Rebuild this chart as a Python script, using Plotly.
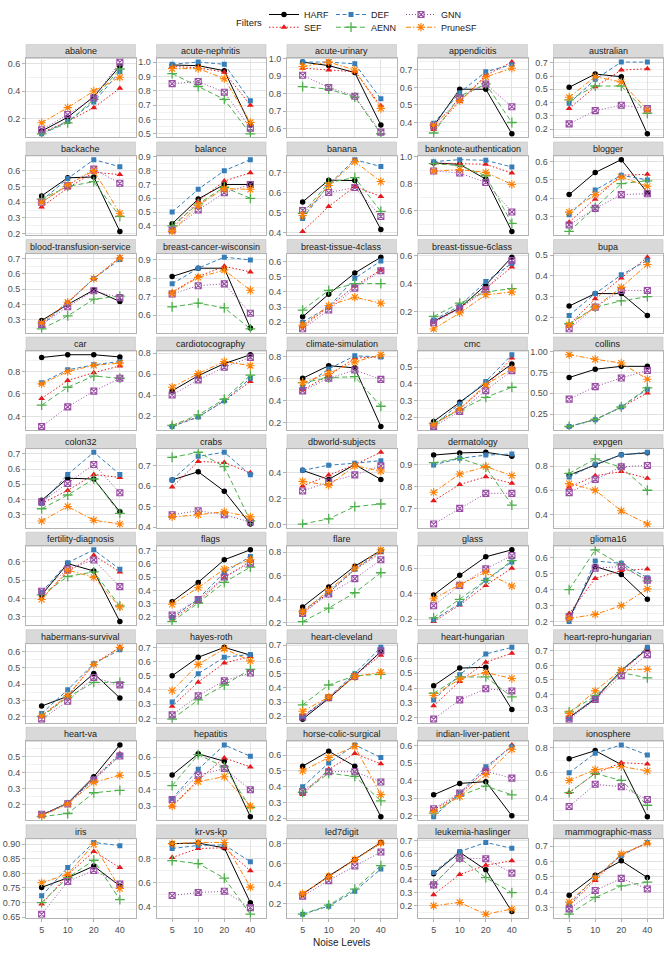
import plotly.graph_objects as go

NOISE = ["5", "10", "20", "40"]

DATASETS = [
    "abalone", "acute-nephritis", "acute-urinary", "appendicitis", "australian",
    "backache", "balance", "banana", "banknote-authentication", "blogger",
    "blood-transfusion-service", "breast-cancer-wisconsin", "breast-tissue-4class", "breast-tissue-6class", "bupa",
    "car", "cardiotocography", "climate-simulation", "cmc", "collins",
    "colon32", "crabs", "dbworld-subjects", "dermatology", "expgen",
    "fertility-diagnosis", "flags", "flare", "glass", "glioma16",
    "habermans-survival", "hayes-roth", "heart-cleveland", "heart-hungarian", "heart-repro-hungarian",
    "heart-va", "hepatitis", "horse-colic-surgical", "indian-liver-patient", "ionosphere",
    "iris", "kr-vs-kp", "led7digit", "leukemia-haslinger", "mammographic-mass",
]

HARF = [
    [0.11, 0.21, 0.36, 0.58], [0.98, 0.975, 0.94, 0.56], [0.98, 0.96, 0.92, 0.62], [0.38, 0.59, 0.59, 0.335], [0.515, 0.615, 0.595, 0.165],
    [0.44, 0.555, 0.56, 0.215], [0.415, 0.595, 0.70, 0.70], [0.553, 0.662, 0.66, 0.415], [0.955, 0.945, 0.835, 0.445], [0.42, 0.54, 0.61, 0.43],
    [0.295, 0.40, 0.495, 0.42], [0.81, 0.855, 0.855, 0.53], [0.235, 0.385, 0.525, 0.63], [0.13, 0.225, 0.39, 0.59], [0.255, 0.315, 0.315, 0.21],
    [0.925, 0.95, 0.95, 0.93], [0.44, 0.585, 0.70, 0.785], [0.605, 0.72, 0.70, 0.165], [0.175, 0.29, 0.405, 0.52], [0.69, 0.79, 0.825, 0.825],
    [0.395, 0.54, 0.535, 0.32], [0.63, 0.67, 0.575, 0.415], [0.42, 0.35, 0.465, 0.35], [0.945, 0.955, 0.958, 0.94], [0.725, 0.81, 0.895, 0.91],
    [0.42, 0.59, 0.55, 0.275], [0.315, 0.46, 0.63, 0.705], [0.335, 0.505, 0.68, 0.815], [0.39, 0.545, 0.69, 0.745], [0.22, 0.545, 0.495, 0.34],
    [0.265, 0.325, 0.465, 0.315], [0.50, 0.63, 0.70, 0.645], [0.18, 0.325, 0.485, 0.655], [0.415, 0.535, 0.54, 0.255], [0.24, 0.37, 0.565, 0.715],
    [0.135, 0.21, 0.375, 0.575], [0.49, 0.62, 0.575, 0.235], [0.53, 0.625, 0.53, 0.21], [0.32, 0.385, 0.395, 0.20], [0.71, 0.775, 0.665, 0.255],
    [0.752, 0.785, 0.825, 0.757], [0.925, 0.93, 0.89, 0.435], [0.295, 0.475, 0.64, 0.81], [0.445, 0.61, 0.475, 0.155], [0.38, 0.51, 0.605, 0.495],
]

SEF = [
    [0.10, 0.18, 0.28, 0.42], [0.97, 0.96, 0.93, 0.70], [0.945, 0.935, 0.925, 0.73], [0.36, 0.52, 0.67, 0.745], [0.355, 0.52, 0.645, 0.655],
    [0.37, 0.49, 0.59, 0.575], [0.38, 0.58, 0.725, 0.785], [0.405, 0.53, 0.63, 0.58], [0.955, 0.95, 0.945, 0.88], [0.27, 0.395, 0.525, 0.53],
    [0.275, 0.415, 0.57, 0.71], [0.725, 0.81, 0.865, 0.835], [0.17, 0.30, 0.44, 0.545], [0.125, 0.225, 0.365, 0.52], [0.165, 0.29, 0.39, 0.49],
    [0.56, 0.72, 0.79, 0.85], [0.11, 0.19, 0.345, 0.53], [0.50, 0.63, 0.79, 0.80], [0.16, 0.25, 0.385, 0.555], [0.10, 0.185, 0.33, 0.505],
    [0.375, 0.46, 0.565, 0.545], [0.595, 0.72, 0.715, 0.665], [0.30, 0.385, 0.465, 0.56], [0.735, 0.81, 0.845, 0.815], [0.625, 0.72, 0.755, 0.70],
    [0.40, 0.545, 0.635, 0.545], [0.185, 0.315, 0.495, 0.62], [0.285, 0.455, 0.65, 0.795], [0.18, 0.31, 0.465, 0.60], [0.25, 0.47, 0.52, 0.53],
    [0.205, 0.325, 0.525, 0.625], [0.285, 0.455, 0.59, 0.635], [0.195, 0.33, 0.49, 0.63], [0.28, 0.445, 0.575, 0.635], [0.245, 0.375, 0.555, 0.715],
    [0.135, 0.205, 0.365, 0.52], [0.30, 0.46, 0.595, 0.54], [0.35, 0.51, 0.61, 0.545], [0.235, 0.32, 0.465, 0.605], [0.445, 0.595, 0.68, 0.67],
    [0.695, 0.795, 0.875, 0.82], [0.81, 0.885, 0.89, 0.70], [0.295, 0.47, 0.64, 0.80], [0.285, 0.44, 0.51, 0.545], [0.31, 0.475, 0.645, 0.72],
]

DEF = [
    [0.09, 0.18, 0.32, 0.54], [0.985, 1.0, 0.985, 0.73], [0.98, 0.98, 0.97, 0.77], [0.395, 0.57, 0.69, 0.73], [0.395, 0.575, 0.705, 0.705],
    [0.41, 0.55, 0.67, 0.625], [0.50, 0.665, 0.80, 0.88], [0.47, 0.64, 0.765, 0.73], [0.965, 0.98, 0.975, 0.925], [0.31, 0.445, 0.525, 0.50],
    [0.265, 0.41, 0.57, 0.695], [0.77, 0.855, 0.915, 0.90], [0.20, 0.30, 0.49, 0.605], [0.14, 0.24, 0.415, 0.545], [0.21, 0.315, 0.405, 0.475],
    [0.70, 0.815, 0.86, 0.89], [0.10, 0.19, 0.345, 0.56], [0.525, 0.69, 0.81, 0.80], [0.15, 0.28, 0.415, 0.575], [0.10, 0.18, 0.335, 0.55],
    [0.375, 0.565, 0.71, 0.565], [0.63, 0.745, 0.765, 0.655], [0.42, 0.46, 0.475, 0.495], [0.90, 0.93, 0.945, 0.95], [0.71, 0.815, 0.895, 0.915],
    [0.435, 0.595, 0.665, 0.56], [0.195, 0.335, 0.535, 0.655], [0.30, 0.46, 0.655, 0.81], [0.195, 0.32, 0.505, 0.65], [0.20, 0.58, 0.565, 0.475],
    [0.22, 0.365, 0.525, 0.61], [0.315, 0.515, 0.63, 0.65], [0.20, 0.335, 0.50, 0.685], [0.32, 0.49, 0.63, 0.675], [0.235, 0.38, 0.565, 0.725],
    [0.135, 0.21, 0.36, 0.51], [0.345, 0.525, 0.675, 0.605], [0.40, 0.55, 0.665, 0.585], [0.195, 0.33, 0.48, 0.595], [0.60, 0.755, 0.82, 0.74],
    [0.723, 0.82, 0.906, 0.895], [0.885, 0.91, 0.915, 0.775], [0.095, 0.175, 0.325, 0.545], [0.455, 0.615, 0.685, 0.64], [0.32, 0.495, 0.64, 0.725],
]

AENN = [
    [0.09, 0.17, 0.34, 0.56], [0.92, 0.83, 0.74, 0.50], [0.84, 0.825, 0.78, 0.57], [0.34, 0.55, 0.62, 0.40], [0.42, 0.525, 0.525, 0.32],
    [0.42, 0.50, 0.53, 0.31], [0.40, 0.56, 0.68, 0.60], [0.495, 0.65, 0.675, 0.505], [0.95, 0.935, 0.86, 0.505], [0.22, 0.35, 0.48, 0.495],
    [0.24, 0.325, 0.435, 0.455], [0.645, 0.665, 0.64, 0.525], [0.28, 0.41, 0.455, 0.455], [0.165, 0.26, 0.34, 0.365], [0.17, 0.25, 0.28, 0.30],
    [0.50, 0.66, 0.76, 0.74], [0.11, 0.21, 0.36, 0.59], [0.565, 0.61, 0.62, 0.35], [0.165, 0.245, 0.32, 0.38], [0.10, 0.185, 0.335, 0.565],
    [0.34, 0.43, 0.535, 0.31], [0.74, 0.765, 0.695, 0.43], [0.005, 0.045, 0.14, 0.16], [0.91, 0.93, 0.89, 0.715], [0.74, 0.86, 0.79, 0.60],
    [0.42, 0.52, 0.545, 0.36], [0.165, 0.305, 0.46, 0.575], [0.21, 0.325, 0.455, 0.625], [0.21, 0.355, 0.505, 0.66], [0.40, 0.65, 0.555, 0.455],
    [0.20, 0.32, 0.41, 0.41], [0.195, 0.33, 0.435, 0.545], [0.28, 0.42, 0.485, 0.495], [0.365, 0.475, 0.475, 0.34], [0.28, 0.39, 0.55, 0.515],
    [0.125, 0.145, 0.275, 0.29], [0.425, 0.615, 0.54, 0.29], [0.365, 0.485, 0.465, 0.31], [0.215, 0.315, 0.37, 0.32], [0.445, 0.595, 0.54, 0.345],
    [0.70, 0.785, 0.845, 0.71], [0.785, 0.76, 0.64, 0.34], [0.095, 0.185, 0.345, 0.58], [0.365, 0.565, 0.415, 0.30], [0.255, 0.365, 0.44, 0.465],
]

GNN = [
    [0.12, 0.23, 0.35, 0.61], [0.85, 0.865, 0.79, 0.54], [0.905, 0.835, 0.785, 0.58], [0.38, 0.54, 0.62, 0.49], [0.24, 0.34, 0.38, 0.355],
    [0.40, 0.505, 0.61, 0.52], [0.37, 0.515, 0.64, 0.70], [0.51, 0.60, 0.625, 0.48], [0.895, 0.88, 0.81, 0.59], [0.255, 0.345, 0.42, 0.425],
    [0.27, 0.385, 0.49, 0.445], [0.715, 0.76, 0.77, 0.61], [0.155, 0.28, 0.425, 0.54], [0.12, 0.22, 0.355, 0.565], [0.145, 0.25, 0.33, 0.33],
    [0.31, 0.485, 0.625, 0.74], [0.40, 0.545, 0.665, 0.76], [0.49, 0.605, 0.68, 0.595], [0.145, 0.235, 0.36, 0.48], [0.43, 0.58, 0.685, 0.775],
    [0.385, 0.505, 0.63, 0.445], [0.46, 0.48, 0.46, 0.425], [0.26, 0.33, 0.385, 0.455], [0.628, 0.70, 0.769, 0.769], [0.58, 0.69, 0.795, 0.805],
    [0.44, 0.56, 0.61, 0.465], [0.215, 0.33, 0.50, 0.605], [0.28, 0.445, 0.575, 0.735], [0.305, 0.465, 0.595, 0.70], [0.23, 0.535, 0.545, 0.46],
    [0.185, 0.295, 0.44, 0.395], [0.225, 0.36, 0.465, 0.52], [0.195, 0.33, 0.48, 0.66], [0.19, 0.32, 0.395, 0.38], [0.23, 0.365, 0.53, 0.675],
    [0.14, 0.205, 0.355, 0.505], [0.34, 0.49, 0.53, 0.40], [0.37, 0.495, 0.495, 0.43], [0.24, 0.33, 0.455, 0.415], [0.335, 0.51, 0.49, 0.39],
    [0.66, 0.772, 0.81, 0.763], [0.495, 0.52, 0.53, 0.395], [0.275, 0.43, 0.575, 0.715], [0.36, 0.565, 0.56, 0.45], [0.29, 0.41, 0.49, 0.42],
]

PRUNESF = [
    [0.17, 0.28, 0.40, 0.50], [0.955, 0.955, 0.885, 0.58], [0.955, 0.98, 0.935, 0.715], [0.385, 0.525, 0.66, 0.71], [0.44, 0.595, 0.555, 0.345],
    [0.40, 0.51, 0.60, 0.33], [0.36, 0.55, 0.67, 0.665], [0.485, 0.635, 0.755, 0.655], [0.895, 0.905, 0.885, 0.795], [0.325, 0.42, 0.515, 0.465],
    [0.28, 0.415, 0.57, 0.705], [0.72, 0.805, 0.845, 0.735], [0.18, 0.31, 0.365, 0.325], [0.075, 0.19, 0.32, 0.34], [0.165, 0.25, 0.345, 0.455],
    [0.69, 0.80, 0.855, 0.875], [0.475, 0.605, 0.72, 0.68], [0.565, 0.65, 0.755, 0.82], [0.155, 0.25, 0.395, 0.49], [0.965, 0.91, 0.865, 0.67],
    [0.26, 0.355, 0.265, 0.24], [0.45, 0.46, 0.475, 0.45], [0.335, 0.305, 0.455, 0.415], [0.774, 0.858, 0.892, 0.851], [0.655, 0.60, 0.43, 0.32],
    [0.395, 0.555, 0.515, 0.355], [0.295, 0.42, 0.56, 0.63], [0.295, 0.475, 0.665, 0.82], [0.36, 0.47, 0.57, 0.46], [0.22, 0.245, 0.30, 0.405],
    [0.205, 0.33, 0.52, 0.625], [0.395, 0.58, 0.69, 0.605], [0.235, 0.335, 0.48, 0.51], [0.35, 0.46, 0.505, 0.465], [0.27, 0.425, 0.57, 0.575],
    [0.13, 0.205, 0.34, 0.385], [0.30, 0.45, 0.48, 0.30], [0.50, 0.585, 0.655, 0.35], [0.225, 0.31, 0.435, 0.58], [0.54, 0.625, 0.65, 0.615],
    [0.768, 0.797, 0.90, 0.748], [0.925, 0.935, 0.935, 0.565], [0.30, 0.47, 0.64, 0.805], [0.20, 0.225, 0.135, 0.175], [0.335, 0.495, 0.65, 0.72],
]

T1 = ["0.2", "0.3", "0.4", "0.5", "0.6"]
YTICKS = [
    ["0.2", "0.4", "0.6"], ["0.5", "0.6", "0.7", "0.8", "0.9", "1.0"], ["0.6", "0.7", "0.8", "0.9", "1.0"], ["0.4", "0.5", "0.6", "0.7"], ["0.2", "0.3", "0.4", "0.5", "0.6", "0.7"],
    T1, ["0.4", "0.5", "0.6", "0.7", "0.8", "0.9"], ["0.4", "0.5", "0.6", "0.7"], ["0.6", "0.8", "1.0"], T1,
    ["0.3", "0.4", "0.5", "0.6", "0.7"], ["0.6", "0.7", "0.8", "0.9"], T1, ["0.2", "0.4", "0.6"], ["0.2", "0.3", "0.4", "0.5"],
    ["0.4", "0.6", "0.8"], ["0.2", "0.4", "0.6", "0.8"], ["0.2", "0.4", "0.6", "0.8"], T1, ["0.25", "0.50", "0.75", "1.00"],
    ["0.3", "0.4", "0.5", "0.6", "0.7"], ["0.4", "0.5", "0.6", "0.7", "0.8"], ["0.0", "0.2", "0.4"], ["0.7", "0.8", "0.9"], ["0.4", "0.6", "0.8"],
    ["0.3", "0.4", "0.5", "0.6"], ["0.2", "0.3", "0.4", "0.5", "0.6", "0.7"], ["0.2", "0.4", "0.6", "0.8"], ["0.2", "0.4", "0.6"], T1,
    T1, ["0.2", "0.3", "0.4", "0.5", "0.6", "0.7"], ["0.2", "0.3", "0.4", "0.5", "0.6", "0.7"], T1, ["0.3", "0.4", "0.5", "0.6", "0.7"],
    ["0.2", "0.3", "0.4", "0.5"], ["0.3", "0.4", "0.5", "0.6"], T1, T1, ["0.4", "0.6", "0.8"],
    ["0.65", "0.70", "0.75", "0.80", "0.85", "0.90"], ["0.4", "0.6", "0.8"], ["0.2", "0.4", "0.6", "0.8"], ["0.2", "0.3", "0.4", "0.5", "0.6", "0.7"], ["0.3", "0.4", "0.5", "0.6", "0.7"],
]

# ---------------- styling / layout ----------------
W, H = 668, 959
FONT = "Liberation Sans, Arial, Helvetica, sans-serif"
COL_LEFT = [26, 156.5, 287, 418, 553.5]
PANEL_W = 109.5
ROW_TOP0, ROW_PITCH, STRIP_H, PANEL_H = 34.0, 99.2, 14.3, 80.3
BORDER = "#b3b3b3"
GRID = "#e2e2e2"
MINOR = "#f1f1f1"

SERIES = [
    # name, data, color, dash, symbol, size, marker line width, legend, legend width
    ("HARF", HARF, "#000000", "solid", "circle", 5.5, 0, "legend", 22),
    ("SEF", SEF, "#E41A1C", "1.5px,2px", "triangle-up", 6, 0, "legend2", 22),
    ("DEF", DEF, "#377EB8", "4px,2.5px", "square", 5, 0, "legend", 25),
    ("AENN", AENN, "#4DAF4A", "5px,3px", "cross-thin-open", 7, 1.3, "legend2", 25),
    ("GNN", GNN, "#984EA3", "1px,2px", "square-x-open", 6, 1.1, "legend", 36),
    ("PruneSF", PRUNESF, "#FF7F00", "5px,2px,1.5px,2px", "asterisk-open", 7, 1.1, "legend2", 36),
]

fig = go.Figure()
layout = dict(
    width=W, height=H, margin=dict(l=0, r=0, t=0, b=0),
    paper_bgcolor="white", plot_bgcolor="white",
    font=dict(family=FONT, size=9, color="#1a1a1a"),
    shapes=[], annotations=[],
)

for i, name in enumerate(DATASETS):
    r, c = divmod(i, 5)
    k = "" if i == 0 else str(i + 1)
    x0 = COL_LEFT[c]
    x1 = x0 + PANEL_W
    strip_top = ROW_TOP0 + r * ROW_PITCH
    ptop = strip_top + STRIP_H
    pbot = ptop + PANEL_H

    vals = HARF[i] + SEF[i] + DEF[i] + AENN[i] + GNN[i] + PRUNESF[i]
    lo, hi = min(vals), max(vals)
    pad = 0.05 * (hi - lo)
    ticks = YTICKS[i]
    tv = [float(t) for t in ticks]
    step = tv[1] - tv[0]

    xa = dict(
        domain=[x0 / W, x1 / W], anchor="y" + k, type="category",
        categoryorder="array", categoryarray=NOISE, range=[-0.6, 3.6],
        showgrid=True, gridcolor=GRID, gridwidth=0.7, zeroline=False,
        showline=True, mirror=True, linecolor=BORDER, linewidth=1,
        fixedrange=True,
    )
    if r == 8:
        xa.update(ticks="outside", ticklen=3, tickcolor=BORDER, tickwidth=1,
                  showticklabels=True, tickfont=dict(size=9, color="#4d4d4d"))
    else:
        xa.update(ticks="", showticklabels=False)
    ya = dict(
        domain=[1 - pbot / H, 1 - ptop / H], anchor="x" + k,
        range=[lo - pad, hi + pad], tickmode="array", tickvals=tv, ticktext=ticks,
        ticks="outside", ticklen=3, tickcolor=BORDER, tickwidth=1,
        tickfont=dict(size=9, color="#4d4d4d"),
        showgrid=True, gridcolor=GRID, gridwidth=0.7, zeroline=False,
        showline=True, mirror=True, linecolor=BORDER, linewidth=1,
        minor=dict(tickmode="linear", tick0=tv[0], dtick=step / 2, showgrid=True,
                   gridcolor=MINOR, gridwidth=0.5, ticks=""),
        fixedrange=True,
    )
    layout["xaxis" + k] = xa
    layout["yaxis" + k] = ya

    # strip
    layout["shapes"].append(dict(
        type="rect", xref="paper", yref="paper",
        x0=x0 / W, x1=x1 / W, y0=1 - ptop / H, y1=1 - strip_top / H,
        fillcolor="#d9d9d9", line=dict(color="#c4c4c4", width=0.6), layer="below",
    ))
    layout["annotations"].append(dict(
        text=name, xref="paper", yref="paper", showarrow=False,
        x=(x0 + x1) / 2 / W, y=1 - (strip_top + STRIP_H / 2) / H,
        xanchor="center", yanchor="middle",
        font=dict(size=9, color="#1a1a1a", family=FONT),
    ))

    for (sname, data, color, dash, sym, size, mlw, leg, lw) in SERIES:
        mk = dict(symbol=sym, size=size, color=color)
        if mlw:
            mk["line"] = dict(color=color, width=mlw)
        fig.add_trace(go.Scatter(
            x=NOISE, y=data[i], xaxis="x" + k, yaxis="y" + k,
            mode="lines+markers", name=sname, legendgroup=sname,
            showlegend=(i == 0), legend=leg, legendwidth=lw,
            line=dict(color=color, width=1, dash=dash),
            marker=mk, hoverinfo="skip",
        ))

# x axis title
layout["annotations"].append(dict(
    text="Noise Levels", xref="paper", yref="paper", showarrow=False,
    x=(COL_LEFT[2] + PANEL_W / 2) / W, y=1 - 947 / H, xanchor="center", yanchor="middle",
    font=dict(size=10, color="#1a1a1a", family=FONT),
))
# legend title
layout["annotations"].append(dict(
    text="Filters", xref="paper", yref="paper", showarrow=False,
    x=264 / W, y=1 - 11.5 / H, xanchor="right", yanchor="middle",
    font=dict(size=9.5, color="#1a1a1a", family=FONT),
))

leg_common = dict(orientation="h", xanchor="left", yanchor="middle",
                  bgcolor="rgba(0,0,0,0)", borderwidth=0,
                  font=dict(size=9, color="#1a1a1a", family=FONT),
                  itemwidth=30, tracegroupgap=0, itemclick=False, itemdoubleclick=False)
layout["legend"] = dict(leg_common, x=264 / W, y=1 - 3.5 / H)
layout["legend2"] = dict(leg_common, x=264 / W, y=1 - 16.5 / H)

fig.update_layout(**layout)
fig.write_html("out.html")
